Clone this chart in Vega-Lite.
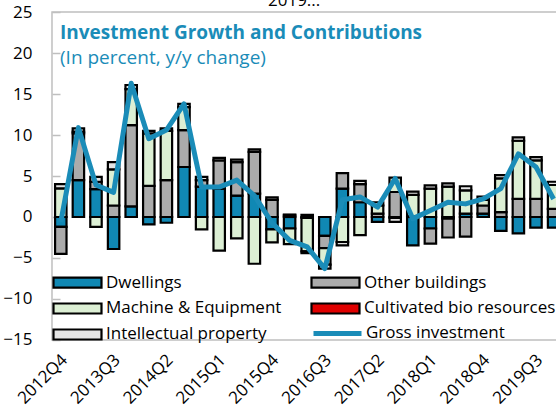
{
  "$schema": "https://vega.github.io/schema/vega-lite/v6.json",
  "width": 510.4,
  "height": 328,
  "autosize": {"type": "none"},
  "padding": {"left": 52, "top": 12, "right": 0, "bottom": 75},
  "config": {
    "view": {"stroke": "#bfbfbf", "strokeWidth": 1.5},
    "font": "Open Sans",
    "axis": {"labelFont": "Open Sans", "labelFontSize": 17, "labelColor": "#000000", "grid": false, "domain": false}
  },
  "title": {
    "text": "Investment Growth and Contributions",
    "subtitle": "(In percent, y/y change)",
    "anchor": "start",
    "frame": "group",
    "offset": -76,
    "dx": 8,
    "font": "Open Sans",
    "fontSize": 19,
    "fontWeight": "bold",
    "color": "#1a8cb8",
    "subtitleFont": "Open Sans",
    "subtitleFontSize": 19,
    "subtitleColor": "#1a8cb8",
    "subtitlePadding": 6
  },
  "datasets": {
    "bars": [
      {"q": "2012Q4", "comp": "Dwellings", "v": -1.2, "ord": 1},
      {"q": "2012Q4", "comp": "Other buildings", "v": -3.3, "ord": 2},
      {"q": "2012Q4", "comp": "Machine & Equipment", "v": 3.5, "ord": 3},
      {"q": "2012Q4", "comp": "Intellectual property", "v": 0.5, "ord": 5},
      {"q": "2013Q1", "comp": "Dwellings", "v": 4.5, "ord": 1},
      {"q": "2013Q1", "comp": "Other buildings", "v": 5.7, "ord": 2},
      {"q": "2013Q1", "comp": "Machine & Equipment", "v": 0.2, "ord": 3},
      {"q": "2013Q1", "comp": "Intellectual property", "v": 0.4, "ord": 5},
      {"q": "2013Q2", "comp": "Dwellings", "v": 3.4, "ord": 1},
      {"q": "2013Q2", "comp": "Other buildings", "v": 0.9, "ord": 2},
      {"q": "2013Q2", "comp": "Machine & Equipment", "v": -1.2, "ord": 3},
      {"q": "2013Q2", "comp": "Intellectual property", "v": 0.6, "ord": 5},
      {"q": "2013Q3", "comp": "Dwellings", "v": -3.9, "ord": 1},
      {"q": "2013Q3", "comp": "Other buildings", "v": 1.4, "ord": 2},
      {"q": "2013Q3", "comp": "Machine & Equipment", "v": 4.4, "ord": 3},
      {"q": "2013Q3", "comp": "Intellectual property", "v": 0.9, "ord": 5},
      {"q": "2013Q4", "comp": "Dwellings", "v": 1.3, "ord": 1},
      {"q": "2013Q4", "comp": "Other buildings", "v": 9.9, "ord": 2},
      {"q": "2013Q4", "comp": "Machine & Equipment", "v": 4.4, "ord": 3},
      {"q": "2013Q4", "comp": "Intellectual property", "v": 0.5, "ord": 5},
      {"q": "2014Q1", "comp": "Dwellings", "v": -0.9, "ord": 1},
      {"q": "2014Q1", "comp": "Other buildings", "v": 3.8, "ord": 2},
      {"q": "2014Q1", "comp": "Machine & Equipment", "v": 6.4, "ord": 3},
      {"q": "2014Q1", "comp": "Intellectual property", "v": 0.3, "ord": 5},
      {"q": "2014Q2", "comp": "Dwellings", "v": -0.7, "ord": 1},
      {"q": "2014Q2", "comp": "Other buildings", "v": 4.5, "ord": 2},
      {"q": "2014Q2", "comp": "Machine & Equipment", "v": 6.0, "ord": 3},
      {"q": "2014Q2", "comp": "Intellectual property", "v": 0.3, "ord": 5},
      {"q": "2014Q3", "comp": "Dwellings", "v": 6.1, "ord": 1},
      {"q": "2014Q3", "comp": "Other buildings", "v": 4.5, "ord": 2},
      {"q": "2014Q3", "comp": "Machine & Equipment", "v": 2.8, "ord": 3},
      {"q": "2014Q3", "comp": "Intellectual property", "v": 0.4, "ord": 5},
      {"q": "2014Q4", "comp": "Dwellings", "v": 3.7, "ord": 1},
      {"q": "2014Q4", "comp": "Other buildings", "v": 0.8, "ord": 2},
      {"q": "2014Q4", "comp": "Machine & Equipment", "v": -1.5, "ord": 3},
      {"q": "2014Q4", "comp": "Intellectual property", "v": 0.4, "ord": 5},
      {"q": "2015Q1", "comp": "Dwellings", "v": 3.45, "ord": 1},
      {"q": "2015Q1", "comp": "Other buildings", "v": 3.45, "ord": 2},
      {"q": "2015Q1", "comp": "Machine & Equipment", "v": -4.1, "ord": 3},
      {"q": "2015Q1", "comp": "Intellectual property", "v": 0.3, "ord": 5},
      {"q": "2015Q2", "comp": "Dwellings", "v": 2.6, "ord": 1},
      {"q": "2015Q2", "comp": "Other buildings", "v": 4.1, "ord": 2},
      {"q": "2015Q2", "comp": "Machine & Equipment", "v": -2.6, "ord": 3},
      {"q": "2015Q2", "comp": "Intellectual property", "v": 0.3, "ord": 5},
      {"q": "2015Q3", "comp": "Dwellings", "v": 2.85, "ord": 1},
      {"q": "2015Q3", "comp": "Other buildings", "v": 5.1, "ord": 2},
      {"q": "2015Q3", "comp": "Machine & Equipment", "v": -5.7, "ord": 3},
      {"q": "2015Q3", "comp": "Intellectual property", "v": 0.3, "ord": 5},
      {"q": "2015Q4", "comp": "Dwellings", "v": -1.5, "ord": 1},
      {"q": "2015Q4", "comp": "Other buildings", "v": 2.1, "ord": 2},
      {"q": "2015Q4", "comp": "Machine & Equipment", "v": -1.6, "ord": 3},
      {"q": "2015Q4", "comp": "Intellectual property", "v": 0.3, "ord": 5},
      {"q": "2016Q1", "comp": "Dwellings", "v": -1.4, "ord": 1},
      {"q": "2016Q1", "comp": "Other buildings", "v": 0.2, "ord": 2},
      {"q": "2016Q1", "comp": "Machine & Equipment", "v": -1.9, "ord": 3},
      {"q": "2016Q1", "comp": "Intellectual property", "v": 0.1, "ord": 5},
      {"q": "2016Q2", "comp": "Dwellings", "v": -0.1, "ord": 1},
      {"q": "2016Q2", "comp": "Other buildings", "v": 0.25, "ord": 2},
      {"q": "2016Q2", "comp": "Machine & Equipment", "v": -4.1, "ord": 3},
      {"q": "2016Q2", "comp": "Intellectual property", "v": -0.2, "ord": 5},
      {"q": "2016Q3", "comp": "Dwellings", "v": -2.3, "ord": 1},
      {"q": "2016Q3", "comp": "Other buildings", "v": -1.5, "ord": 2},
      {"q": "2016Q3", "comp": "Machine & Equipment", "v": -2.0, "ord": 3},
      {"q": "2016Q3", "comp": "Intellectual property", "v": -0.5, "ord": 5},
      {"q": "2016Q4", "comp": "Dwellings", "v": 3.45, "ord": 1},
      {"q": "2016Q4", "comp": "Other buildings", "v": 1.9, "ord": 2},
      {"q": "2016Q4", "comp": "Machine & Equipment", "v": -3.05, "ord": 3},
      {"q": "2016Q4", "comp": "Intellectual property", "v": -0.4, "ord": 5},
      {"q": "2017Q1", "comp": "Dwellings", "v": 1.8, "ord": 1},
      {"q": "2017Q1", "comp": "Other buildings", "v": 2.2, "ord": 2},
      {"q": "2017Q1", "comp": "Machine & Equipment", "v": -2.2, "ord": 3},
      {"q": "2017Q1", "comp": "Intellectual property", "v": 0.4, "ord": 5},
      {"q": "2017Q2", "comp": "Dwellings", "v": -0.6, "ord": 1},
      {"q": "2017Q2", "comp": "Other buildings", "v": 0.4, "ord": 2},
      {"q": "2017Q2", "comp": "Machine & Equipment", "v": 1.0, "ord": 3},
      {"q": "2017Q2", "comp": "Intellectual property", "v": 0.4, "ord": 5},
      {"q": "2017Q3", "comp": "Dwellings", "v": -0.1, "ord": 1},
      {"q": "2017Q3", "comp": "Other buildings", "v": 3.05, "ord": 2},
      {"q": "2017Q3", "comp": "Machine & Equipment", "v": 1.75, "ord": 3},
      {"q": "2017Q3", "comp": "Intellectual property", "v": -0.5, "ord": 5},
      {"q": "2017Q4", "comp": "Dwellings", "v": -3.45, "ord": 1},
      {"q": "2017Q4", "comp": "Other buildings", "v": 0.1, "ord": 2},
      {"q": "2017Q4", "comp": "Machine & Equipment", "v": 2.6, "ord": 3},
      {"q": "2017Q4", "comp": "Intellectual property", "v": 0.4, "ord": 5},
      {"q": "2018Q1", "comp": "Dwellings", "v": -1.4, "ord": 1},
      {"q": "2018Q1", "comp": "Other buildings", "v": -1.85, "ord": 2},
      {"q": "2018Q1", "comp": "Machine & Equipment", "v": 3.45, "ord": 3},
      {"q": "2018Q1", "comp": "Intellectual property", "v": 0.4, "ord": 5},
      {"q": "2018Q2", "comp": "Dwellings", "v": -0.2, "ord": 1},
      {"q": "2018Q2", "comp": "Other buildings", "v": -2.3, "ord": 2},
      {"q": "2018Q2", "comp": "Machine & Equipment", "v": 3.7, "ord": 3},
      {"q": "2018Q2", "comp": "Intellectual property", "v": 0.4, "ord": 5},
      {"q": "2018Q3", "comp": "Dwellings", "v": 0.4, "ord": 1},
      {"q": "2018Q3", "comp": "Other buildings", "v": -2.4, "ord": 2},
      {"q": "2018Q3", "comp": "Machine & Equipment", "v": 2.85, "ord": 3},
      {"q": "2018Q3", "comp": "Intellectual property", "v": 0.5, "ord": 5},
      {"q": "2018Q4", "comp": "Dwellings", "v": 0.4, "ord": 1},
      {"q": "2018Q4", "comp": "Other buildings", "v": 1.0, "ord": 2},
      {"q": "2018Q4", "comp": "Machine & Equipment", "v": 0.7, "ord": 3},
      {"q": "2018Q4", "comp": "Intellectual property", "v": 0.4, "ord": 5},
      {"q": "2019Q1", "comp": "Dwellings", "v": -1.7, "ord": 1},
      {"q": "2019Q1", "comp": "Other buildings", "v": 0.6, "ord": 2},
      {"q": "2019Q1", "comp": "Machine & Equipment", "v": 4.1, "ord": 3},
      {"q": "2019Q1", "comp": "Intellectual property", "v": 0.4, "ord": 5},
      {"q": "2019Q2", "comp": "Dwellings", "v": -2.0, "ord": 1},
      {"q": "2019Q2", "comp": "Other buildings", "v": 2.2, "ord": 2},
      {"q": "2019Q2", "comp": "Machine & Equipment", "v": 7.1, "ord": 3},
      {"q": "2019Q2", "comp": "Intellectual property", "v": 0.4, "ord": 5},
      {"q": "2019Q3", "comp": "Dwellings", "v": -1.3, "ord": 1},
      {"q": "2019Q3", "comp": "Other buildings", "v": 2.2, "ord": 2},
      {"q": "2019Q3", "comp": "Machine & Equipment", "v": 4.7, "ord": 3},
      {"q": "2019Q3", "comp": "Intellectual property", "v": 0.4, "ord": 5},
      {"q": "2019Q4", "comp": "Dwellings", "v": -1.3, "ord": 1},
      {"q": "2019Q4", "comp": "Other buildings", "v": 1.0, "ord": 2},
      {"q": "2019Q4", "comp": "Machine & Equipment", "v": 2.9, "ord": 3},
      {"q": "2019Q4", "comp": "Intellectual property", "v": 0.4, "ord": 5}
    ],
    "gross": [
      {"q": "2012Q4", "comp": "Gross investment", "g": -0.6},
      {"q": "2013Q1", "comp": "Gross investment", "g": 10.9},
      {"q": "2013Q2", "comp": "Gross investment", "g": 3.9},
      {"q": "2013Q3", "comp": "Gross investment", "g": 3.0},
      {"q": "2013Q4", "comp": "Gross investment", "g": 16.3},
      {"q": "2014Q1", "comp": "Gross investment", "g": 9.55},
      {"q": "2014Q2", "comp": "Gross investment", "g": 10.6},
      {"q": "2014Q3", "comp": "Gross investment", "g": 13.8},
      {"q": "2014Q4", "comp": "Gross investment", "g": 3.65},
      {"q": "2015Q1", "comp": "Gross investment", "g": 3.65},
      {"q": "2015Q2", "comp": "Gross investment", "g": 4.5},
      {"q": "2015Q3", "comp": "Gross investment", "g": 2.6},
      {"q": "2015Q4", "comp": "Gross investment", "g": -0.7},
      {"q": "2016Q1", "comp": "Gross investment", "g": -2.85},
      {"q": "2016Q2", "comp": "Gross investment", "g": -3.65},
      {"q": "2016Q3", "comp": "Gross investment", "g": -6.3},
      {"q": "2016Q4", "comp": "Gross investment", "g": 2.1},
      {"q": "2017Q1", "comp": "Gross investment", "g": 2.45},
      {"q": "2017Q2", "comp": "Gross investment", "g": 1.2},
      {"q": "2017Q3", "comp": "Gross investment", "g": 4.7},
      {"q": "2017Q4", "comp": "Gross investment", "g": -0.2},
      {"q": "2018Q1", "comp": "Gross investment", "g": 0.8},
      {"q": "2018Q2", "comp": "Gross investment", "g": 1.8},
      {"q": "2018Q3", "comp": "Gross investment", "g": 1.6},
      {"q": "2018Q4", "comp": "Gross investment", "g": 2.2},
      {"q": "2019Q1", "comp": "Gross investment", "g": 3.45},
      {"q": "2019Q2", "comp": "Gross investment", "g": 7.7},
      {"q": "2019Q3", "comp": "Gross investment", "g": 6.1},
      {"q": "2019Q4", "comp": "Gross investment", "g": 2.2}
    ]
  },
  "encoding": {
    "x": {
      "field": "q",
      "type": "ordinal",
      "title": null,
      "scale": {
        "domain": ["2012Q4","2013Q1","2013Q2","2013Q3","2013Q4","2014Q1","2014Q2","2014Q3","2014Q4","2015Q1","2015Q2","2015Q3","2015Q4","2016Q1","2016Q2","2016Q3","2016Q4","2017Q1","2017Q2","2017Q3","2017Q4","2018Q1","2018Q2","2018Q3","2018Q4","2019Q1","2019Q2","2019Q3","2019Q4"],
        "paddingInner": 0.35,
        "paddingOuter": 0.175
      },
      "axis": {
        "values": ["2012Q4","2013Q3","2014Q2","2015Q1","2015Q4","2016Q3","2017Q2","2018Q1","2018Q4","2019Q3"],
        "labelAngle": -45,
        "labelAlign": "right",
        "labelBaseline": "middle",
        "ticks": false,
        "labelPadding": 17,
        "labelOffset": 4
      }
    }
  },
  "layer": [
    {
      "data": {"name": "bars"},
      "mark": {"type": "bar", "stroke": "#000000", "strokeWidth": 2.2, "opacity": 1},
      "encoding": {
        "y": {
          "field": "v",
          "type": "quantitative",
          "stack": "zero",
          "title": null,
          "scale": {"domain": [-15, 25], "nice": false, "zero": false},
          "axis": {
            "values": [-15, -10, -5, 0, 5, 10, 15, 20, 25],
            "tickSize": -8,
            "tickColor": "#bfbfbf",
            "tickWidth": 1.5,
            "labelPadding": 28
          }
        },
        "color": {
          "field": "comp",
          "type": "nominal",
          "scale": {
            "domain": ["Dwellings", "Machine & Equipment", "Intellectual property", "Other buildings", "Cultivated bio resources"],
            "range": ["#1088b4", "#dcefd4", "#e4e4e4", "#ababab", "#e00000"]
          },
          "legend": {
            "orient": "none",
            "legendX": 17,
            "legendY": 262,
            "columns": 2,
            "title": null,
            "padding": 0,
            "symbolType": "M-4.8,-1H4.8V1H-4.8Z",
            "symbolSize": 100,
            "symbolStrokeColor": "#000000",
            "symbolStrokeWidth": 2.2,
            "symbolOpacity": 1,
            "labelFont": "Open Sans",
            "labelFontSize": 17,
            "labelColor": "#000000",
            "labelOffset": 20,
            "labelLimit": 400,
            "rowPadding": 7,
            "columnPadding": 25
          }
        },
        "order": {"field": "ord", "type": "quantitative"}
      }
    },
    {
      "data": {"values": [{}]},
      "mark": {"type": "rule", "color": "#a6a6a6", "strokeWidth": 2},
      "encoding": {"y": {"datum": 0}}
    },
    {
      "data": {"name": "gross"},
      "mark": {"type": "line", "strokeWidth": 5, "strokeJoin": "round"},
      "encoding": {
        "y": {"field": "g", "type": "quantitative"},
        "stroke": {
          "field": "comp",
          "type": "nominal",
          "scale": {"domain": ["Gross investment"], "range": ["#1a8cb8"]},
          "legend": {
            "orient": "none",
            "legendX": 277,
            "legendY": 313,
            "title": null,
            "padding": 0,
            "symbolType": "M-4.8,0H4.8",
            "symbolSize": 100,
            "symbolStrokeWidth": 5,
            "symbolOpacity": 1,
            "labelFont": "Open Sans",
            "labelFontSize": 17,
            "labelColor": "#000000",
            "labelOffset": 20,
            "labelLimit": 400
          }
        }
      }
    },
    {
      "data": {"values": [{}]},
      "mark": {"type": "text", "align": "left", "baseline": "alphabetic", "fontSize": 17, "font": "Open Sans", "color": "#000000", "dx": -4, "clip": false},
      "encoding": {
        "x": {"datum": "2015Q4"},
        "y": {"datum": 25.75},
        "text": {"value": "2019..."}
      }
    }
  ]
}
